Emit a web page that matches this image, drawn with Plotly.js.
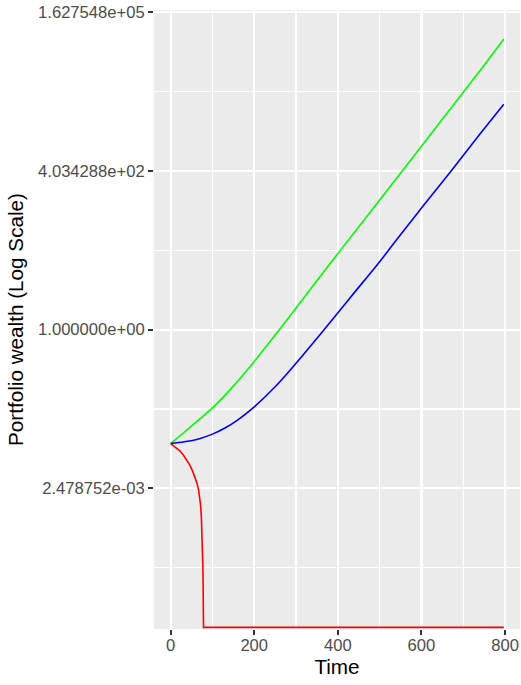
<!DOCTYPE html>
<html>
<head>
<meta charset="utf-8">
<script src="https://cdn.plot.ly/plotly-3.0.1.min.js"></script>
<style>html,body{margin:0;padding:0;background:#fff;}#chart{width:521px;height:685px;}</style>
</head>
<body>
<div id="chart"></div>
<script>
// Time points and log(wealth) values
const greenTime = [0, 33, 65, 100, 145, 200, 260, 330, 405, 480, 554, 630, 701, 750, 797];
const greenLogWealth = [-4.31, -3.87, -3.44, -2.96, -2.22, -1.2, 0, 1.44, 2.98, 4.5, 6.0, 7.55, 9.0, 10.0, 10.99];

const blueTime = [0, 33, 65, 100, 130, 160, 200, 250, 300, 345, 367, 430, 501, 541, 600, 671, 740, 797];
const blueLogWealth = [-4.31, -4.24, -4.14, -3.95, -3.72, -3.42, -2.92, -2.16, -1.27, -0.42, 0, 1.22, 2.59, 3.41, 4.6, 6.0, 7.4, 8.53];

const redTime = [0, 10, 22, 30, 38, 46, 53, 58, 63, 67, 69.5, 71.5, 73.5, 75, 76, 77, 77.6, 78.3, 78.7, 797];
const redLogWealth = [-4.31, -4.42, -4.58, -4.73, -4.91, -5.12, -5.37, -5.57, -5.81, -6.07, -6.32, -6.62, -7.08, -7.6, -8.21, -8.9, -9.47, -10.48, -11.26, -11.26];

const yTickLog = [-6, 0, 6, 12];
const yTickText = ["2.478752e-03", "1.000000e+00", "4.034288e+02", "1.627548e+05"];
const yMinorLog = [-9, -3, 3, 9];
const xTicks = [0, 200, 400, 600, 800];
const xMinor = [100, 300, 500, 700];

const toWealth = a => a.map(v => Math.exp(v));
const LN10 = Math.log(10);

const font = "Liberation Sans, Arial, sans-serif";

const traces = [
  {x: greenTime, y: toWealth(greenLogWealth), mode: 'lines', line: {color: '#00FF00', width: 1.6, shape: 'spline', smoothing: 1}, hoverinfo: 'skip'},
  {x: blueTime, y: toWealth(blueLogWealth), mode: 'lines', line: {color: '#0000FF', width: 1.6, shape: 'spline', smoothing: 1}, hoverinfo: 'skip'},
  {x: redTime, y: toWealth(redLogWealth), mode: 'lines', line: {color: '#FF0000', width: 1.6}, hoverinfo: 'skip'}
];

const layout = {
  width: 521, height: 685,
  margin: {l: 154, r: 1, t: 10, b: 56, pad: 0},
  paper_bgcolor: '#FFFFFF',
  plot_bgcolor: '#EBEBEB',
  showlegend: false,
  font: {family: font, color: '#4D4D4D', size: 16.6},
  xaxis: {
    range: [-39.8, 835.8],
    tickmode: 'array', tickvals: xTicks, ticktext: xTicks.map(String),
    ticks: 'outside', ticklen: 5, tickwidth: 1.9, tickcolor: '#333333',
    ticklabelstandoff: -4,
    showgrid: true, gridcolor: '#FFFFFF', gridwidth: 2.2,
    minor: {tickmode: 'array', tickvals: xMinor, showgrid: true, gridcolor: '#FFFFFF', gridwidth: 1.1, ticks: ''},
    zeroline: false, showline: false,
    tickfont: {family: font, size: 16.6, color: '#4D4D4D'},
    title: {text: 'Time', font: {family: font, size: 20.7, color: '#000000'}, standoff: 2}
  },
  yaxis: {
    type: 'log',
    range: [-11.32 / LN10, 12.09 / LN10],
    tickmode: 'array', tickvals: toWealth(yTickLog), ticktext: yTickText,
    ticks: 'outside', ticklen: 5, tickwidth: 1.9, tickcolor: '#333333',
    showgrid: true, gridcolor: '#FFFFFF', gridwidth: 2.2,
    minor: {tickmode: 'array', tickvals: toWealth(yMinorLog), showgrid: true, gridcolor: '#FFFFFF', gridwidth: 1.1, ticks: ''},
    zeroline: false, showline: false,
    tickfont: {family: font, size: 16.6, color: '#4D4D4D'},
    title: {text: 'Portfolio wealth (Log Scale)', font: {family: font, size: 20.7, color: '#000000'}, standoff: 8}
  }
};

Plotly.newPlot('chart', traces, layout, {displayModeBar: false, staticPlot: true});
</script>
</body>
</html>
